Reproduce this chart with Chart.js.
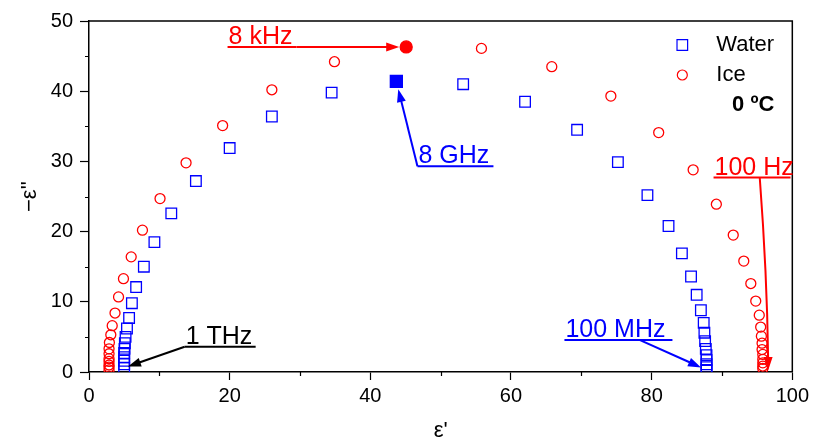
<!DOCTYPE html>
<html>
<head>
<meta charset="utf-8">
<script src="https://cdn.jsdelivr.net/npm/chart.js@4.4.0/dist/chart.umd.min.js"></script>
<style>
  html, body { margin: 0; padding: 0; background: #fff; }
  #wrap { width: 813px; height: 444px; }
</style>
</head>
<body>
<div id="wrap"><canvas id="coleChart" width="813" height="444"></canvas></div>
<script>
//--------- Cole-Cole plot of water and ice at 0 C ---------------------------
// water: from 1 THz (left) down to 100 MHz (right)
var waterRe = [5.0, 5.0, 5.0, 5.0, 5.0, 5.05, 5.1, 5.2, 5.4, 5.7, 6.1, 6.7, 7.8, 9.3, 11.7, 15.2, 20.0, 26.0, 34.5, 43.7,
               53.2, 62.0, 69.4, 75.2, 79.4, 82.4, 84.3, 85.6, 86.4, 87.0, 87.4, 87.5, 87.6, 87.7, 87.8, 87.8, 87.8, 87.8, 87.8];
var waterIm = [0.6, 1.1, 1.6, 2.1, 2.7, 3.3, 4.1, 5.0, 6.2, 7.7, 9.8, 12.1, 15.0, 18.5, 22.6, 27.2, 31.9, 36.4, 39.8, 41.4,
               41.0, 38.5, 34.5, 29.9, 25.2, 20.8, 16.9, 13.6, 11.0, 8.8, 7.0, 5.6, 4.4, 3.3, 2.4, 1.7, 1.1, 0.7, 0.3];
// ice: high frequency (left) down to 100 Hz (right)
var iceRe = [2.85, 2.85, 2.85, 2.85, 2.85, 2.85, 2.85, 2.9, 3.1, 3.3, 3.7, 4.2, 4.9, 6.0, 7.6, 10.1, 13.8, 19.0, 26.0, 34.9, 45.1,
             55.8, 65.8, 74.2, 81.0, 85.9, 89.2, 91.6, 93.1, 94.1, 94.8, 95.3, 95.5, 95.6, 95.7, 95.7, 95.8, 95.8, 95.8, 95.8, 95.8];
var iceIm = [0.3, 0.7, 1.0, 1.5, 1.9, 2.6, 3.3, 4.2, 5.3, 6.6, 8.4, 10.7, 13.3, 16.4, 20.2, 24.7, 29.8, 35.1, 40.2, 44.2, 46.3,
             46.1, 43.5, 39.3, 34.1, 28.8, 23.9, 19.5, 15.8, 12.6, 10.1, 8.1, 6.4, 5.1, 4.1, 3.2, 2.5, 1.8, 1.3, 0.85, 0.5];

var waterMark = 19;   // 8 GHz, drawn filled
var iceMark = 20;     // 8 kHz, drawn filled

var xTicks = [0, 20, 40, 60, 80, 100];
var yTicks = [0, 10, 20, 30, 40, 50];
var xMinor = [10, 30, 50, 70, 90];
var yMinor = [5, 15, 25, 35, 45];

var BLUE = 'rgb(0,0,255)';
var RED = 'rgb(255,0,0)';
var FONT = '"Liberation Sans", Arial, sans-serif';

function toPoints(xs, ys) {
        return xs.map(function (x, i) { return { x: x, y: ys[i] }; });
}

// frequency labels with arrows: x,y = start of the underlined label (data units), w = underline length (px)
var notes = [
        { text: '8 kHz', color: RED, x: 19.7, y: 46.3, w: 69, ds: 1, index: iceMark, from: 1, gap: 7 },
        { text: '8 GHz', color: BLUE, x: 46.7, y: 29.3, w: 76, ds: 0, index: waterMark, from: 0, gap: 8 },
        { text: '100 Hz', color: RED, x: 88.8, y: 27.7, w: 77, ds: 1, index: iceRe.length - 1, from: 0.6, gap: 0, dx: 5.5, dy: 1.5, bend: 3 },
        { text: '100 MHz', color: BLUE, x: 67.6, y: 4.55, w: 108, ds: 0, index: waterRe.length - 1, from: 0.7, gap: 6 },
        { text: '1 THz', color: '#000', x: 13.6, y: 3.6, w: 71, ds: 0, index: 0, from: 0, gap: 4 }
];

function arrowHead(ctx, ax, ay, tx, ty, len, half) {
        var a = Math.atan2(ty - ay, tx - ax);
        var bx = tx - len * Math.cos(a), by = ty - len * Math.sin(a);
        ctx.beginPath();
        ctx.moveTo(tx, ty);
        ctx.lineTo(bx + half * Math.sin(a), by - half * Math.cos(a));
        ctx.lineTo(bx - half * Math.sin(a), by + half * Math.cos(a));
        ctx.closePath();
        ctx.fill();
        return { x: bx + Math.cos(a), y: by + Math.sin(a) };
}

// frame, minor ticks, legend and frequency labels
var extrasPlugin = {
        id: 'extras',
        afterDatasetsDraw: function (chart) {
                var ctx = chart.ctx;
                var a = chart.chartArea;
                var xs = chart.scales.x, ys = chart.scales.y;
                ctx.save();

                // top and right edges of the box
                ctx.strokeStyle = '#000';
                ctx.lineWidth = 1.5;
                ctx.beginPath();
                ctx.moveTo(a.left, a.top);
                ctx.lineTo(a.right, a.top);
                ctx.lineTo(a.right, a.bottom);
                ctx.stroke();

                // minor ticks
                ctx.lineWidth = 1.2;
                ctx.beginPath();
                xMinor.forEach(function (v) {
                        var px = Math.round(xs.getPixelForValue(v)) + 0.5;
                        ctx.moveTo(px, a.bottom);
                        ctx.lineTo(px, a.bottom + 4);
                });
                yMinor.forEach(function (v) {
                        var py = Math.round(ys.getPixelForValue(v)) + 0.5;
                        ctx.moveTo(a.left, py);
                        ctx.lineTo(a.left - 4, py);
                });
                ctx.stroke();

                // legend
                var lx = a.right - 110;
                var helpers = Chart.helpers;
                ctx.fillStyle = 'rgba(0,0,0,0)';
                ctx.strokeStyle = BLUE;
                helpers.drawPoint(ctx, { pointStyle: 'rect', radius: 7.5, borderWidth: 1.3, rotation: 0 }, lx, a.top + 24);
                ctx.strokeStyle = RED;
                helpers.drawPoint(ctx, { pointStyle: 'circle', radius: 5, borderWidth: 1.3, rotation: 0 }, lx, a.top + 54);
                ctx.fillStyle = '#000';
                ctx.font = '22px ' + FONT;
                ctx.textBaseline = 'middle';
                ctx.textAlign = 'left';
                ctx.fillText('Water', lx + 34, a.top + 24);
                ctx.fillText('Ice', lx + 34, a.top + 54);
                ctx.font = 'bold 22px ' + FONT;
                ctx.textAlign = 'right';
                ctx.fillText('0 ºC', a.right - 18, a.top + 84);

                // frequency labels
                ctx.font = '25px ' + FONT;
                ctx.textAlign = 'left';
                ctx.textBaseline = 'alphabetic';
                notes.forEach(function (n) {
                        var x0 = xs.getPixelForValue(n.x);
                        var y0 = ys.getPixelForValue(n.y);
                        ctx.fillStyle = n.color;
                        ctx.strokeStyle = n.color;
                        ctx.fillText(n.text, x0 + 1, y0 - 3);
                        ctx.lineWidth = 2;
                        ctx.beginPath();
                        ctx.moveTo(x0, y0);
                        ctx.lineTo(x0 + n.w, y0);
                        ctx.stroke();

                        var el = chart.getDatasetMeta(n.ds).data[n.index];
                        var sx = x0 + n.w * n.from, sy = y0;
                        var tx = el.x + (n.dx || 0), ty = el.y + (n.dy || 0);
                        var len = Math.hypot(tx - sx, ty - sy);
                        tx -= (tx - sx) / len * n.gap;
                        ty -= (ty - sy) / len * n.gap;
                        var cx = (sx + tx) / 2 + (n.bend || 0), cy = (sy + ty) / 2;
                        var base = arrowHead(ctx, n.bend ? cx : sx, n.bend ? cy : sy, tx, ty, 13, 4.5);
                        ctx.beginPath();
                        ctx.moveTo(sx, sy);
                        if (n.bend) ctx.quadraticCurveTo(cx, cy, base.x, base.y);
                        else ctx.lineTo(base.x, base.y);
                        ctx.stroke();
                });
                ctx.restore();
        }
};

var coleData = {
        datasets: [
                {
                        label: 'Water',
                        data: toPoints(waterRe, waterIm),
                        showLine: false,
                        pointStyle: 'rect',
                        pointRadius: function (c) { return c.dataIndex === waterMark ? 8.5 : 7.5; },
                        pointBorderWidth: 1.3,
                        pointBorderColor: BLUE,
                        pointBackgroundColor: function (c) { return c.dataIndex === waterMark ? BLUE : 'rgba(0,0,0,0)'; }
                },
                {
                        label: 'Ice',
                        data: toPoints(iceRe, iceIm),
                        showLine: false,
                        pointStyle: 'circle',
                        pointRadius: function (c) { return c.dataIndex === iceMark ? 6 : 5; },
                        pointBorderWidth: 1.3,
                        pointBorderColor: RED,
                        pointBackgroundColor: function (c) { return c.dataIndex === iceMark ? RED : 'rgba(0,0,0,0)'; }
                }
        ]
};

var coleConfig = {
        type: 'scatter',
        data: coleData,
        options: {
                responsive: false,
                animation: false,
                layout: { padding: { left: 0, top: 21, right: 20, bottom: 0 } },
                plugins: { legend: { display: false }, tooltip: { enabled: false } },
                scales: {
                        x: {
                                type: 'linear',
                                min: 0, max: 100,
                                afterFit: function (s) { s.height = 72; },
                                afterBuildTicks: function (s) { s.ticks = xTicks.map(function (v) { return { value: v }; }); },
                                grid: { drawOnChartArea: false, tickLength: 8, tickColor: '#000', tickWidth: 1.2 },
                                border: { color: '#000', width: 1.5 },
                                ticks: { color: '#000', padding: 4, maxRotation: 0, font: { family: FONT, size: 20 } },
                                title: { display: true, text: "ε'", color: '#000', padding: { top: 0, bottom: 0 }, font: { family: FONT, size: 22 } }
                        },
                        y: {
                                type: 'linear',
                                min: 0, max: 50,
                                afterFit: function (s) { s.width = 89; },
                                afterBuildTicks: function (s) { s.ticks = yTicks.map(function (v) { return { value: v }; }); },
                                grid: { drawOnChartArea: false, tickLength: 9, tickColor: '#000', tickWidth: 1.2 },
                                border: { color: '#000', width: 1.5 },
                                ticks: { color: '#000', padding: 7, font: { family: FONT, size: 20 } },
                                title: { display: true, text: "−ε''", color: '#000', padding: { top: 17, bottom: 0 }, font: { family: FONT, size: 22 } }
                        }
                }
        },
        plugins: [extrasPlugin]
};

var ctx = document.getElementById('coleChart').getContext('2d');
var coleChart = new Chart(ctx, coleConfig);
</script>
</body>
</html>
